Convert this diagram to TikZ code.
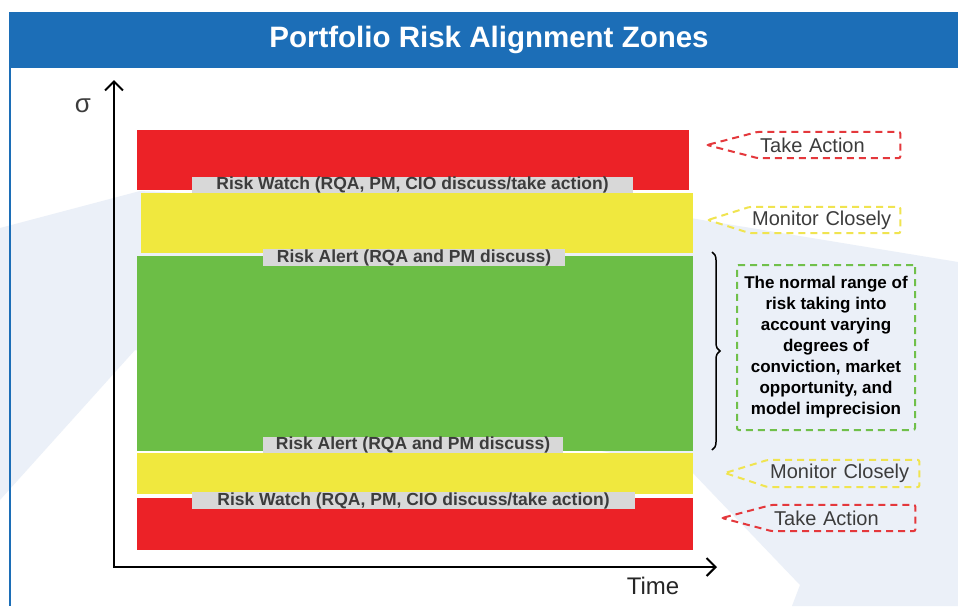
\documentclass[tikz,border=0pt]{standalone}
\usepackage{fontspec}
\setmainfont{Liberation Sans}
\usepackage{tikz}
\usetikzlibrary{positioning,arrows.meta,decorations.pathreplacing}
\definecolor{titleblue}{RGB}{28,110,183}
\definecolor{palebg}{RGB}{235,240,248}
\definecolor{zred}{RGB}{236,34,39}
\definecolor{zyellow}{RGB}{240,232,62}
\definecolor{zgreen}{RGB}{108,190,70}
\definecolor{lblgrey}{RGB}{216,216,216}
\definecolor{txtgrey}{RGB}{60,60,60}
\definecolor{dashred}{RGB}{228,56,60}
\definecolor{dashyellow}{RGB}{240,228,80}
\definecolor{dashgreen}{RGB}{112,192,74}
\tikzset{
    zone/.style = {
        shape=rectangle,
        anchor=north west,
        inner sep=0pt,
        minimum width=556pt
    },
    zonelabel/.style = {
        shape=rectangle,
        fill=lblgrey,
        inner sep=0pt,
        text=txtgrey,
        font=\fontsize{17.5}{17.5}\selectfont\bfseries
    },
    calloutbox/.style = {
        shape=rectangle,
        anchor=west,
        inner xsep=2pt,
        inner ysep=0pt,
        align=left,
        minimum height=26pt,
        text=txtgrey,
        font=\fontsize{20}{20}\selectfont
    },
    pointer/.style = {
        dashed,
        dash pattern=on 7pt off 5pt,
        line width=2pt,
        rounded corners=2pt
    },
    notebox/.style = {
        draw=dashgreen,
        dashed,
        dash pattern=on 7pt off 5pt,
        line width=2pt,
        rounded corners=2pt,
        minimum width=178pt,
        minimum height=165pt,
        align=center,
        font=\fontsize{17}{21}\selectfont\bfseries
    },
    >={Straight Barb[length=9pt,width=18pt]},
}
\begin{document}
\begin{tikzpicture}[x=1pt,y=-1pt]
    \useasboundingbox (0,0) rectangle (958,606);
    \fill[white] (0,0) rectangle (958,606);
    \fill[palebg] (0,228) -- (140,191) -- (690,218) -- (958,262) -- (958,606)
        -- (792,606) -- (800,585) -- (690,470) -- (135,350) -- (0,500) -- cycle;
    \fill[titleblue] (9,12) rectangle (958,68);
    \draw[titleblue, line width=1.5pt] (10,68) -- (10,606);
    \node[text=white, font=\fontsize{29.5}{32}\selectfont\bfseries] (title) at (489,40) {Portfolio Risk Alignment Zones};

    \node[zone, fill=zred, minimum width=552pt, minimum height=60pt] (redtop) at (137,130) {};
    \node[zone, fill=zyellow, minimum width=552pt, minimum height=60pt] (yellowtop) at (141,193) {};
    \node[zone, fill=zgreen, minimum height=195pt] (green) at (137,256) {};
    \node[zone, fill=zyellow, minimum height=41pt] (yellowbot) at (137,453) {};
    \node[zone, fill=zred, minimum height=52pt] (redbot) at (137,498) {};

    \node[zonelabel, minimum width=441pt, minimum height=16pt] (watchtop) at (412.5,185) {Risk Watch (RQA, PM, CIO discuss/take action)};
    \node[zonelabel, minimum width=302pt, minimum height=17pt] (alerttop) at (414,257.5) {Risk Alert (RQA and PM discuss)};
    \node[zonelabel, minimum width=300pt, minimum height=16pt] (alertbot) at (413,445) {Risk Alert (RQA and PM discuss)};
    \node[zonelabel, minimum width=443pt, minimum height=17pt] (watchbot) at (413.5,500.5) {Risk Watch (RQA, PM, CIO discuss/take action)};

    \coordinate (origin) at (114,567);
    \coordinate (sigmaend) at (114,80);
    \coordinate (timeend) at (717,567);
    \draw[<->, line width=2pt] (sigmaend) |- (timeend);
    \node[text=txtgrey, font=\fontsize{26}{26}\selectfont] (sigma) at (83,106) {σ};
    \node[text=black!85, font=\fontsize{24}{24}\selectfont] (time) at (653,586) {Time};

    \coordinate (tiptatop) at (707,145);
    \coordinate (tipmctop) at (708,220);
    \coordinate (tipmcbot) at (725,473);
    \coordinate (tiptabot) at (722,518);
    \node[calloutbox, text width=138pt] (tatop) at (758,145) {Take Action};
    \node[calloutbox, text width=146pt] (mctop) at (750,220) {Monitor Closely};
    \node[calloutbox, text width=147pt, minimum height=27pt] (mcbot) at (768,473.5) {Monitor Closely};
    \node[calloutbox, text width=139pt] (tabot) at (772,518) {Take Action};
    \draw[pointer, draw=dashred] (tiptatop) -- (tatop.north west) -- (tatop.north east) -- (tatop.south east) -- (tatop.south west) -- cycle;
    \draw[pointer, draw=dashyellow] (tipmctop) -- (mctop.north west) -- (mctop.north east) -- (mctop.south east) -- (mctop.south west) -- cycle;
    \draw[pointer, draw=dashyellow] (tipmcbot) -- (mcbot.north west) -- (mcbot.north east) -- (mcbot.south east) -- (mcbot.south west) -- cycle;
    \draw[pointer, draw=dashred] (tiptabot) -- (tabot.north west) -- (tabot.north east) -- (tabot.south east) -- (tabot.south west) -- cycle;

    \node[notebox] (normal) at (826,347.5) {The normal range of\\risk taking into\\account varying\\degrees of\\conviction, market\\opportunity, and\\model imprecision};

    \coordinate (bracetop) at (712,252);
    \coordinate (bracebot) at (712,450);
    \draw[line width=1.5pt, decorate, decoration={brace, amplitude=8pt}] (bracetop) -- (bracebot);
\end{tikzpicture}
\end{document}
